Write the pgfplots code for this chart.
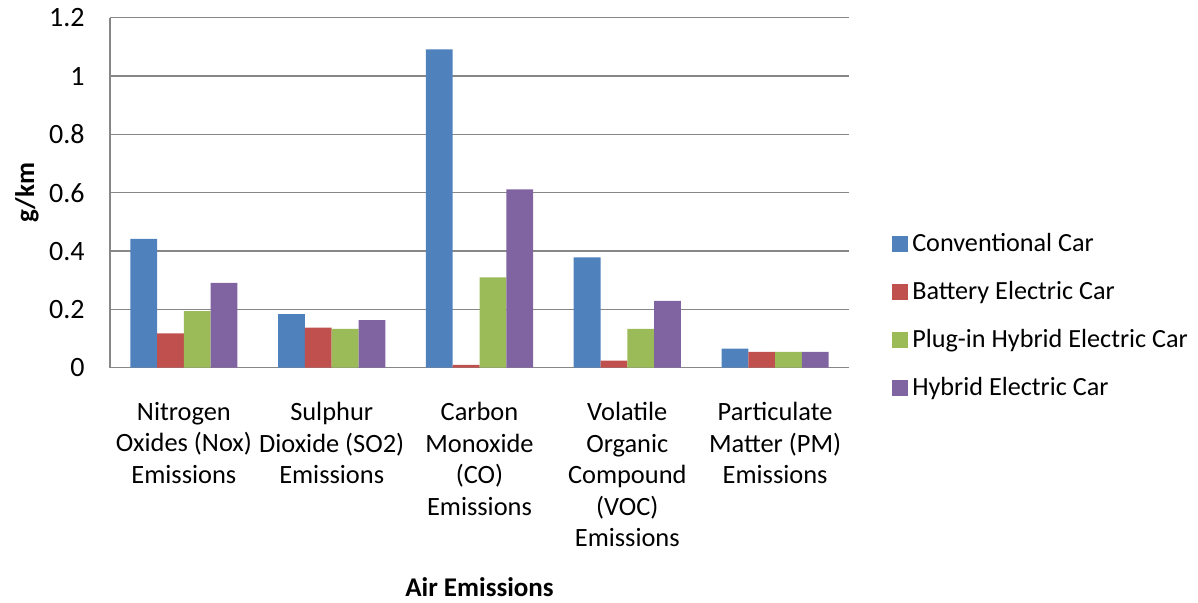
\documentclass[border=0pt]{standalone}
\usepackage{pgfplots}
\pgfplotsset{compat=1.18}
\usepackage{fontspec}
\setmainfont{Carlito}

\definecolor{cconv}{RGB}{79,129,189}
\definecolor{cbatt}{RGB}{192,80,77}
\definecolor{cplug}{RGB}{155,187,89}
\definecolor{chyb}{RGB}{128,100,162}
\definecolor{cgrid}{RGB}{135,135,135}

\begin{document}
\begin{tikzpicture}
	\begin{axis} [
		name=main,
		scale only axis,
		width=369.5pt,
		height=175pt,
		ybar=0pt,
		bar width=13.4pt,
		xmin=-0.5, xmax=4.5,
		ymin=0, ymax=1.2,
		ytick={0,0.2,...,1.2},
		xtick=data,
		xticklabels={
			{Nitrogen\\Oxides (Nox)\\Emissions},
			{Sulphur\\Dioxide (SO2)\\Emissions},
			{Carbon\\Monoxide\\(CO)\\Emissions},
			{Volatile\\Organic\\Compound\\(VOC)\\Emissions},
			{Particulate\\Matter (PM)\\Emissions}},
		major tick length=0pt,
		axis x line*=bottom,
		axis y line*=left,
		axis line style={cgrid, line width=0.75pt},
		ymajorgrids,
		grid style={cgrid, line width=0.75pt},
		/pgf/number format/assume math mode=true,
		yticklabel style={font=\fontsize{14}{16}\selectfont, inner sep=0pt, xshift=-12.5pt},
		xticklabel style={font=\fontsize{13.2}{15.8}\selectfont, align=center, inner sep=0pt, yshift=-17pt},
		ylabel={\textbf{g/km}},
		ylabel style={font=\fontsize{13.5}{15}\selectfont, at={(axis description cs:-0.1123,0.5)}, anchor=center},
		xlabel={\textbf{Air Emissions}},
		xlabel style={font=\fontsize{13.5}{15}\selectfont, inner sep=0pt, at={(axis description cs:0.5,-0.628)}, anchor=center},
		legend cell align=left,
		legend style={draw=none, fill=none, inner sep=0pt, at={(1.058,0.148)}, anchor=west,
			font=\fontsize{13.1}{15}\selectfont, row sep=9.3pt,
			/tikz/every even column/.append style={column sep=2.5pt}},
		legend image code/.code={\fill[#1] (0pt,-4pt) rectangle (8pt,4pt);},
	]
		\addplot[fill=cconv, draw=none] coordinates {(0,0.442) (1,0.184) (2,1.091) (3,0.378) (4,0.065)};
		\addlegendentry{Conventional Car}
		\addplot[fill=cbatt, draw=none] coordinates {(0,0.118) (1,0.137) (2,0.010) (3,0.024) (4,0.054)};
		\addlegendentry{Battery Electric Car}
		\addplot[fill=cplug, draw=none] coordinates {(0,0.194) (1,0.133) (2,0.310) (3,0.133) (4,0.054)};
		\addlegendentry{Plug-in Hybrid Electric Car}
		\addplot[fill=chyb, draw=none] coordinates {(0,0.291) (1,0.163) (2,0.611) (3,0.229) (4,0.054)};
		\addlegendentry{Hybrid Electric Car}
	\end{axis}
	\pgfresetboundingbox
	\path[use as bounding box] ([shift={(-55pt,-117.65pt)}]main.south west) rectangle ([shift={(544pt,183.85pt)}]main.south west);
\end{tikzpicture}
\end{document}
